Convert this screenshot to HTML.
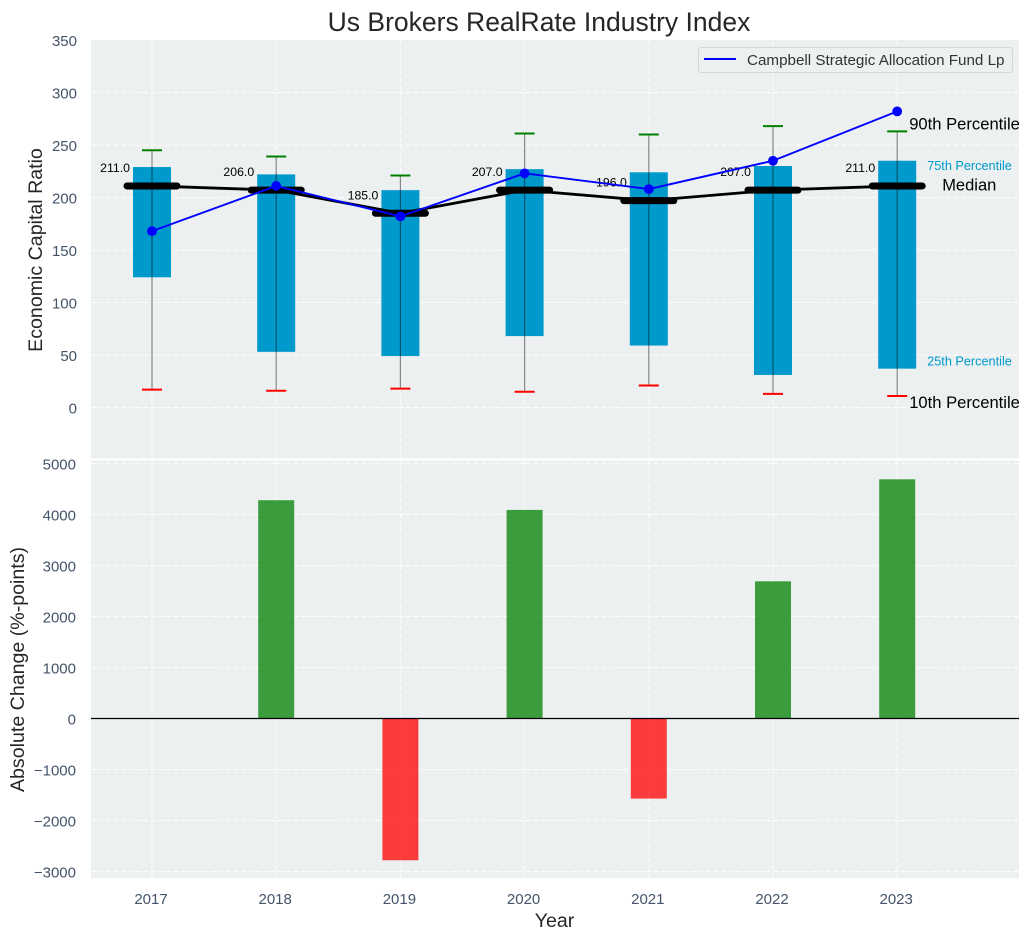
<!DOCTYPE html>
<html>
<head>
<meta charset="utf-8">
<style>
html,body{margin:0;padding:0;background:#fff;}
svg{display:block;font-family:"Liberation Sans",Arial,sans-serif;}
</style>
</head>
<body>
<svg id="chart" width="1030" height="940" viewBox="0 0 1030 940" xmlns="http://www.w3.org/2000/svg"></svg>
<script>
const years = [2017, 2018, 2019, 2020, 2021, 2022, 2023];
const p90 = [245, 239, 221, 261, 260, 268, 263];
const p75 = [229, 222, 207, 227, 224, 230, 235];
const median = [211, 207, 185, 207, 197, 207, 211];
const medianLabels = ["211.0", "206.0", "185.0", "207.0", "196.0", "207.0", "211.0"];
const p25 = [124, 53, 49, 68, 59, 31, 37];
const p10 = [17, 16, 18, 15, 21, 13, 11];
const fund = [168, 211, 182, 223, 208, 235, 282];
const change = [null, 4280, -2780, 4090, -1570, 2690, 4690];
const topTicks = [0, 50, 100, 150, 200, 250, 300, 350];
const bottomTicks = [-3000, -2000, -1000, 0, 1000, 2000, 3000, 4000, 5000];

const NS = "http://www.w3.org/2000/svg";
const svg = document.getElementById("chart");
const L = 91, R = 1019;
const x = v => 152 + (v - 2017) * 124.2;
const yTop = v => 407.5 - v * 1.05;
const yBot = v => 718.5 - v * 0.051;

function mk(tag, a, parent) {
  const e = document.createElementNS(NS, tag);
  for (const k in a) e.setAttribute(k, a[k]);
  (parent || svg).appendChild(e);
  return e;
}
function label(str, a) {
  const e = mk("text", a);
  e.textContent = str;
  return e;
}
const TICK = "#44546a";

// panels
const panelTop = mk("rect", {x: L, y: 40, width: R - L, height: 418.5, fill: "#ecf0f1"});


const panelBot = mk("rect", {x: L, y: 460.5, width: R - L, height: 417.5, fill: "#ecf0f1"});



// grid and ticks
const gridStyle = {stroke: "#fff", "stroke-width": 1, "stroke-dasharray": "5 2.5", opacity: 0.9};
topTicks.forEach(t => {
  if (t !== 350) {
    const g = mk("line", Object.assign({x1: L, x2: R, y1: yTop(t), y2: yTop(t)}, gridStyle));
    
    
  }
  const tl = label(String(t), {x: 77, y: yTop(t) + 5.8, "text-anchor": "end", "font-size": 15, fill: TICK});
  
  
});
bottomTicks.forEach(t => {
  const g = mk("line", Object.assign({x1: L, x2: R, y1: yBot(t), y2: yBot(t)}, gridStyle));
  
  
  const tl = label(String(t).replace("-", "\u2212"), {x: 76, y: yBot(t) + 5.8, "text-anchor": "end", "font-size": 15, fill: TICK});
  
  
});
years.forEach(yr => {
  const g1 = mk("line", Object.assign({x1: x(yr), x2: x(yr), y1: 40, y2: 458.5}, gridStyle));
  
  
  const g2 = mk("line", Object.assign({x1: x(yr), x2: x(yr), y1: 460.5, y2: 878}, gridStyle));
  
  
  const tl = label(String(yr), {x: x(yr) - 1, y: 904, "text-anchor": "middle", "font-size": 15, fill: TICK});
  
  
});

// percentile boxes
years.forEach((yr, i) => {
  const b = mk("rect", {x: x(yr) - 19, y: yTop(p75[i]), width: 38, height: yTop(p25[i]) - yTop(p75[i]), fill: "#0099cc"});
  
  
});
// whiskers
years.forEach((yr, i) => {
  const w = mk("line", {x1: x(yr), x2: x(yr), y1: yTop(p90[i]), y2: yTop(p10[i]), stroke: "#000", "stroke-opacity": 0.45, "stroke-width": 1.2});
  
  
  const c1 = mk("line", {x1: x(yr) - 10, x2: x(yr) + 10, y1: yTop(p90[i]), y2: yTop(p90[i]), stroke: "#008000", "stroke-width": 2});
  
  
  const c2 = mk("line", {x1: x(yr) - 10, x2: x(yr) + 10, y1: yTop(p10[i]), y2: yTop(p10[i]), stroke: "#ff0000", "stroke-width": 2});
  
  
});
// median line
const medLine = mk("polyline", {points: years.map((yr, i) => x(yr) + "," + yTop(median[i])).join(" "), fill: "none", stroke: "#000", "stroke-width": 2.8});


years.forEach((yr, i) => {
  const m = mk("line", {x1: x(yr) - 25, x2: x(yr) + 25, y1: yTop(median[i]), y2: yTop(median[i]), stroke: "#000", "stroke-width": 7, "stroke-linecap": "round"});
  
  
  const t = label(medianLabels[i], {x: x(yr) - 22, y: yTop(median[i]) - 14, "text-anchor": "end", "font-size": 12.3, fill: "#000"});
  
  
});
// fund line
const fundLine = mk("polyline", {points: years.map((yr, i) => x(yr) + "," + yTop(fund[i])).join(" "), fill: "none", stroke: "#0000ff", "stroke-width": 1.9});


years.forEach((yr, i) => {
  const d = mk("circle", {cx: x(yr), cy: yTop(fund[i]), r: 4.9, fill: "#0000ff"});
  
  
});

// percentile annotations (positioned beside the last year's box)
const last = years.length - 1;
const lx = x(years[last]);
const a90 = label("90th Percentile", {x: lx + 12, y: yTop(p90[last]) - 2, "font-size": 16.6, fill: "#000"});


const a75 = label("75th Percentile", {x: lx + 30, y: yTop(p75[last]) + 9, "font-size": 12.7, fill: "#0099cc"});


const aMed = label("Median", {x: lx + 45, y: yTop(median[last]) + 4.5, "font-size": 16.5, fill: "#000"});


const a25 = label("25th Percentile", {x: lx + 30, y: yTop(p25[last]) - 3, "font-size": 12.7, fill: "#0099cc"});


const a10 = label("10th Percentile", {x: lx + 12, y: yTop(p10[last]) + 12, "font-size": 16.6, fill: "#000"});



// change bars
years.forEach((yr, i) => {
  const v = change[i];
  if (v === null) return;
  const y0 = Math.min(yBot(v), yBot(0));
  const bar = mk("rect", {x: x(yr) - 18, y: y0, width: 36, height: Math.abs(yBot(v) - yBot(0)), fill: v >= 0 ? "#008000" : "#ff0000", "fill-opacity": 0.75});
  
  
});
const zero = mk("line", {x1: L, x2: R, y1: yBot(0), y2: yBot(0), stroke: "#000", "stroke-width": 1.2});



// legend
const legend = mk("rect", {x: 698.5, y: 47.5, width: 314, height: 25, rx: 3, fill: "#ecf0f1", "fill-opacity": 0.8, stroke: "#d5d5d8", "stroke-width": 1});


const legLine = mk("line", {x1: 704, x2: 736, y1: 59, y2: 59, stroke: "#0000ff", "stroke-width": 1.9});


const legText = label("Campbell Strategic Allocation Fund Lp", {x: 747, y: 65, "font-size": 15.2, fill: "#333"});



// titles
const title = label("Us Brokers RealRate Industry Index", {x: 539, y: 31, "text-anchor": "middle", "font-size": 26.5, fill: "#262626"});


const yt = label("Economic Capital Ratio", {transform: "translate(42,250) rotate(-90)", "text-anchor": "middle", "font-size": 19.6, fill: "#262626"});


const yb = label("Absolute Change (%-points)", {transform: "translate(24,669.5) rotate(-90)", "text-anchor": "middle", "font-size": 19.6, fill: "#262626"});


const xt = label("Year", {x: 554.5, y: 927, "text-anchor": "middle", "font-size": 19.6, fill: "#262626"});


</script>
</body>
</html>
